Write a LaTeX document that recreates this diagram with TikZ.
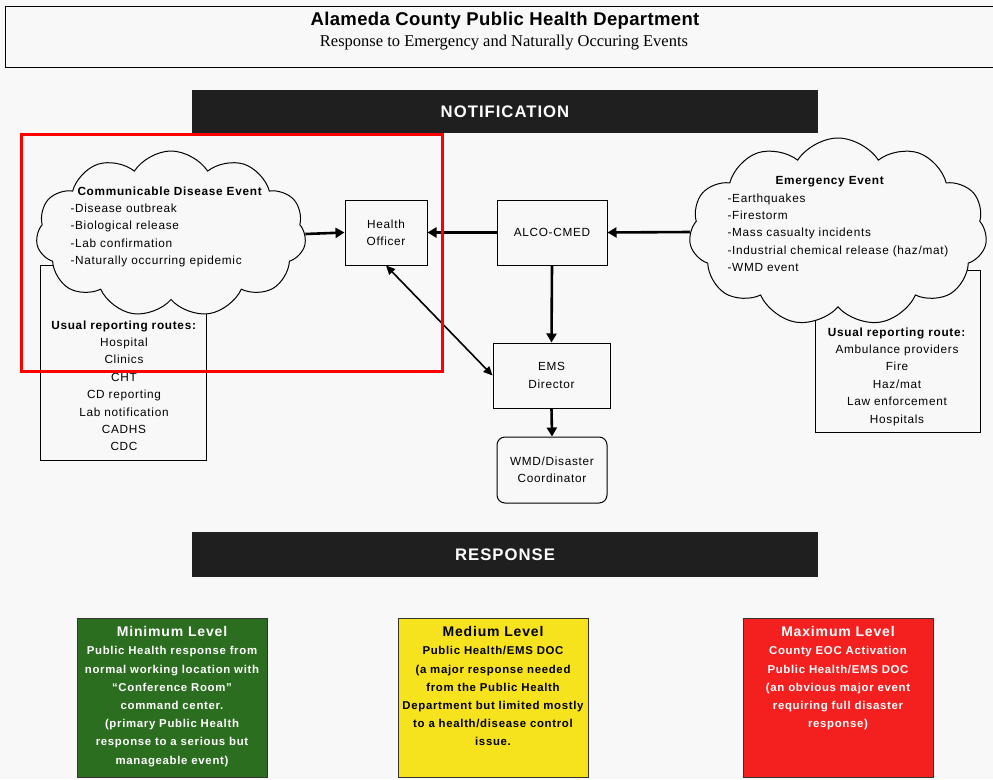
\documentclass[tikz,border=0pt]{standalone}
\usepackage{fontspec}
\setmainfont{Liberation Sans}[LetterSpace=6]
\newfontfamily\titlefont{Liberation Sans}[LetterSpace=2]
\newfontfamily\serifit{Liberation Serif}
\usetikzlibrary{shapes.symbols,arrows.meta}
\definecolor{bg}{RGB}{248,248,248}
\definecolor{mingreen}{RGB}{44,110,32}
\definecolor{medyellow}{RGB}{247,226,30}
\definecolor{maxred}{RGB}{244,32,32}
\tikzset{
  box/.style={draw=black, line width=1pt, fill=bg},
  bar/.style={fill=black!88, draw=none, text=white, font=\bfseries\fontsize{16.7}{18}\selectfont},
  cloudshape/.style={cloud, cloud puffs=11, cloud puff arc=115, draw=black, line width=1pt, fill=bg, inner sep=0pt},
  bigarrow/.style={line width=2.6pt, -{Triangle[length=9pt,width=10pt]}},
  thinarrow/.style={line width=1.6pt, {Triangle[length=9pt,width=8pt]}-{Triangle[length=9pt,width=8pt]}},
  small/.style={font=\fontsize{11.8}{17.4}\selectfont},
  levelbox/.style={draw=black!80, line width=0.8pt, minimum width=190pt, minimum height=159pt, anchor=north west},
  leveltext/.style={anchor=north, align=center, font=\bfseries\fontsize{11.4}{18.2}\selectfont}
}
\begin{document}
\begin{tikzpicture}[x=1pt,y=-1pt]
\useasboundingbox (0,0) rectangle (993,779);
\fill[bg] (0,0) rectangle (993,779);
% title
\draw[line width=1pt] (5,6) rectangle (996,67);
\node (title) at (505,21) {\titlefont\bfseries\fontsize{18.5}{20}\selectfont Alameda County Public Health Department};
\node (subtitle) at (504,43) {\serifit\fontsize{16.5}{18}\selectfont Response to Emergency and Naturally Occuring Events};
% bars
\node[bar, minimum width=626pt, minimum height=43pt] (notif) at (505,111.5) {NOTIFICATION};
\node[bar, minimum width=626pt, minimum height=45pt] (resp) at (505,554.5) {RESPONSE};
% left reporting box
\node[box, minimum width=166pt, minimum height=195pt] (lrep) at (123,362.5) {};
\node[small, align=center, anchor=north] (lreptext) at (124,317) {\textbf{Usual reporting routes:}\\Hospital\\Clinics\\CHT\\CD reporting\\Lab notification\\CADHS\\CDC};
% left cloud
\node[cloudshape, minimum width=270pt, minimum height=166pt] (lcloud) at (171,234) {};
\node[small, align=left, anchor=north west] (lcloudtext) at (67,183) {\hspace*{7pt}\textbf{Communicable Disease Event}\\-Disease outbreak\\-Biological release\\-Lab confirmation\\-Naturally occurring epidemic};
% right reporting box
\node[box, minimum width=165pt, minimum height=162pt] (rrep) at (897.5,351) {};
\node[small, align=center, anchor=north] (rreptext) at (897,324) {\textbf{Usual reporting route:}\\Ambulance providers\\Fire\\Haz/mat\\Law enforcement\\Hospitals};
% right cloud
\node[cloudshape, minimum width=298pt, minimum height=188pt] (rcloud) at (838,232) {};
\node[small, align=left, anchor=north west] (rcloudtext) at (724,173) {\hspace*{48pt}\textbf{Emergency Event}\\-Earthquakes\\-Firestorm\\-Mass casualty incidents\\-Industrial chemical release (haz/mat)\\-WMD event};
% central boxes
\node[box, minimum width=82pt, minimum height=65pt, align=center, small] (ho) at (386,232.5) {Health\\Officer};
\node[box, minimum width=110pt, minimum height=65pt, small] (alco) at (552,232.5) {ALCO-CMED};
\node[box, minimum width=117pt, minimum height=65pt, align=center, small] (ems) at (551.5,375.5) {EMS\\Director};
\node[box, rounded corners=8pt, minimum width=110pt, minimum height=66pt, align=center, small] (wmd) at (552,470) {WMD/Disaster\\Coordinator};
% arrows
\draw[bigarrow] (lcloud.east) -- (ho.west);
\draw[bigarrow] (alco.west) -- (ho.east);
\draw[bigarrow] (rcloud.west) -- (alco.east);
\draw[bigarrow] (alco.south) -- (ems.north);
\draw[bigarrow] (ems.south) -- (wmd.north);
\draw[thinarrow] (ho.south) -- (ems.west);
% red highlight
\draw[red, line width=3pt] (21,134) rectangle (442,371);
% level boxes
\node[levelbox, fill=mingreen] (minbox) at (77,618) {};
\node[leveltext, text=white] (mintext) at (172,623) {{\fontsize{14}{15}\selectfont Minimum Level}\\Public Health response from\\normal working location with\\``Conference Room''\\command center.\\(primary Public Health\\response to a serious but\\manageable event)};
\node[levelbox, fill=medyellow] (medbox) at (398,618) {};
\node[leveltext, text=black] (medtext) at (493,623) {{\fontsize{14}{15}\selectfont Medium Level}\\Public Health/EMS DOC\\(a major response needed\\from the Public Health\\Department but limited mostly\\to a health/disease control\\issue.};
\node[levelbox, fill=maxred] (maxbox) at (743,618) {};
\node[leveltext, text=white] (maxtext) at (838,623) {{\fontsize{14}{15}\selectfont Maximum Level}\\County EOC Activation\\Public Health/EMS DOC\\(an obvious major event\\requiring full disaster\\response)};
\end{tikzpicture}
\end{document}
